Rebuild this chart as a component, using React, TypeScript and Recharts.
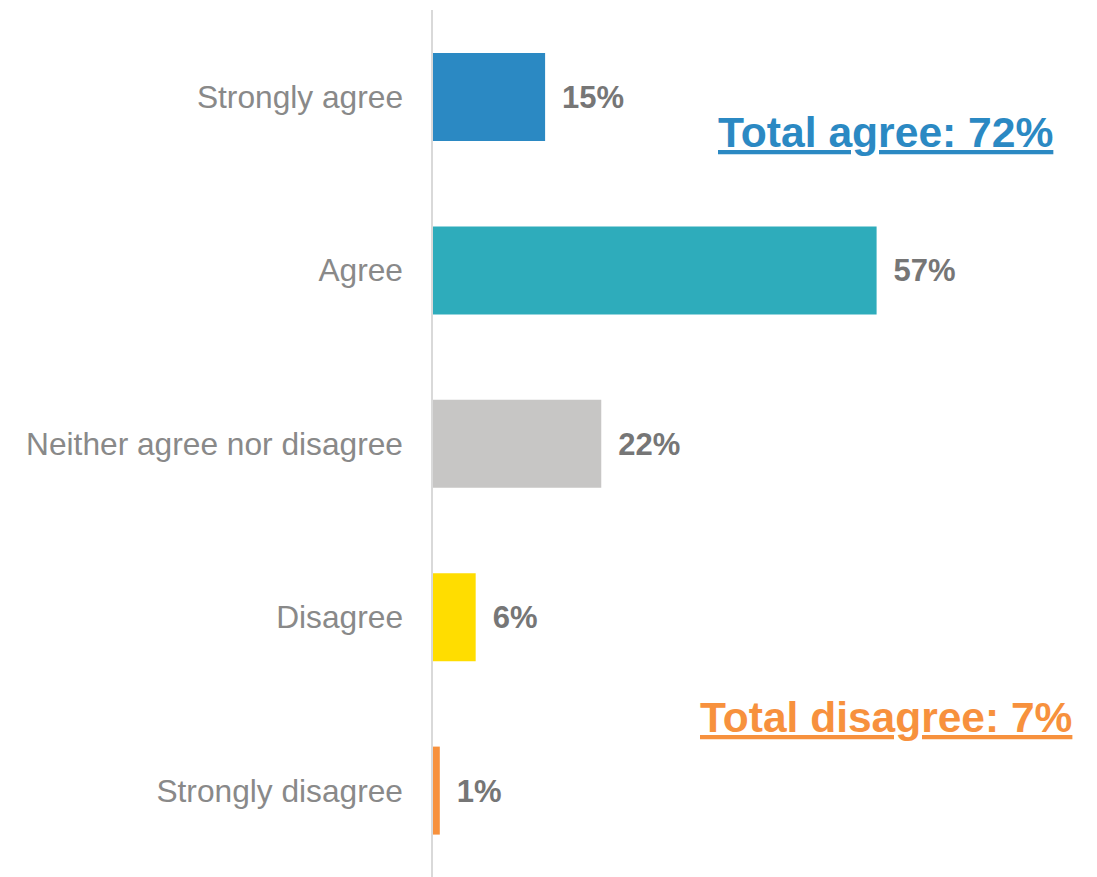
import { BarChart, Bar, XAxis, YAxis, Cell, LabelList } from "recharts";

const categories = [
  "Strongly agree",
  "Agree",
  "Neither agree nor disagree",
  "Disagree",
  "Strongly disagree",
];
const shares = [14.5, 57.0, 21.7, 5.6, 1.0];
const barColors = ["#2b89c3", "#2eacbb", "#c7c6c5", "#ffdd00", "#f7913d"];

const totalAgree = "Total agree: 72%";
const totalDisagree = "Total disagree: 7%";

const data = categories.map((name, i) => ({ name, value: shares[i] }));

const font = "'Liberation Sans', Arial, sans-serif";

export default function App() {
  return (
    <div style={{ position: "absolute", left: 0, top: 0, width: 1097, height: 877, background: "#fff" }}>
      <BarChart
        width={1097}
        height={877}
        data={data}
        layout="vertical"
        margin={{ top: 10, right: 41, bottom: 0, left: 0 }}
        barSize={88}
      >
        <XAxis type="number" domain={[0, 80]} hide />
        <YAxis
          type="category"
          dataKey="name"
          width={432}
          tickLine={false}
          tickSize={0}
          tickMargin={29}
          axisLine={{ stroke: "#d9d9d9", strokeWidth: 2 }}
          tick={{ fill: "#898989", fontSize: 31.7, fontFamily: font }}
        />
        <Bar dataKey="value" isAnimationActive={false}>
          {data.map((d, i) => (
            <Cell key={d.name} fill={barColors[i]} />
          ))}
          <LabelList
            dataKey="value"
            position="right"
            offset={17}
            formatter={(v: any) => `${Math.round(Number(v))}%`}
            style={{ fill: "#767676", fontSize: 31, fontWeight: 700, fontFamily: font }}
          />
        </Bar>
      </BarChart>
      <svg width={1097} height={877} style={{ position: "absolute", left: 0, top: 0, pointerEvents: "none" }}>
        <text x={718} y={147} fill="#2b89c3" fontSize={42.6} fontWeight={700} fontFamily={font} textDecoration="underline">
          {totalAgree}
        </text>
        <text x={700} y={732} fill="#f7913d" fontSize={42.5} fontWeight={700} fontFamily={font} textDecoration="underline">
          {totalDisagree}
        </text>
      </svg>
    </div>
  );
}
